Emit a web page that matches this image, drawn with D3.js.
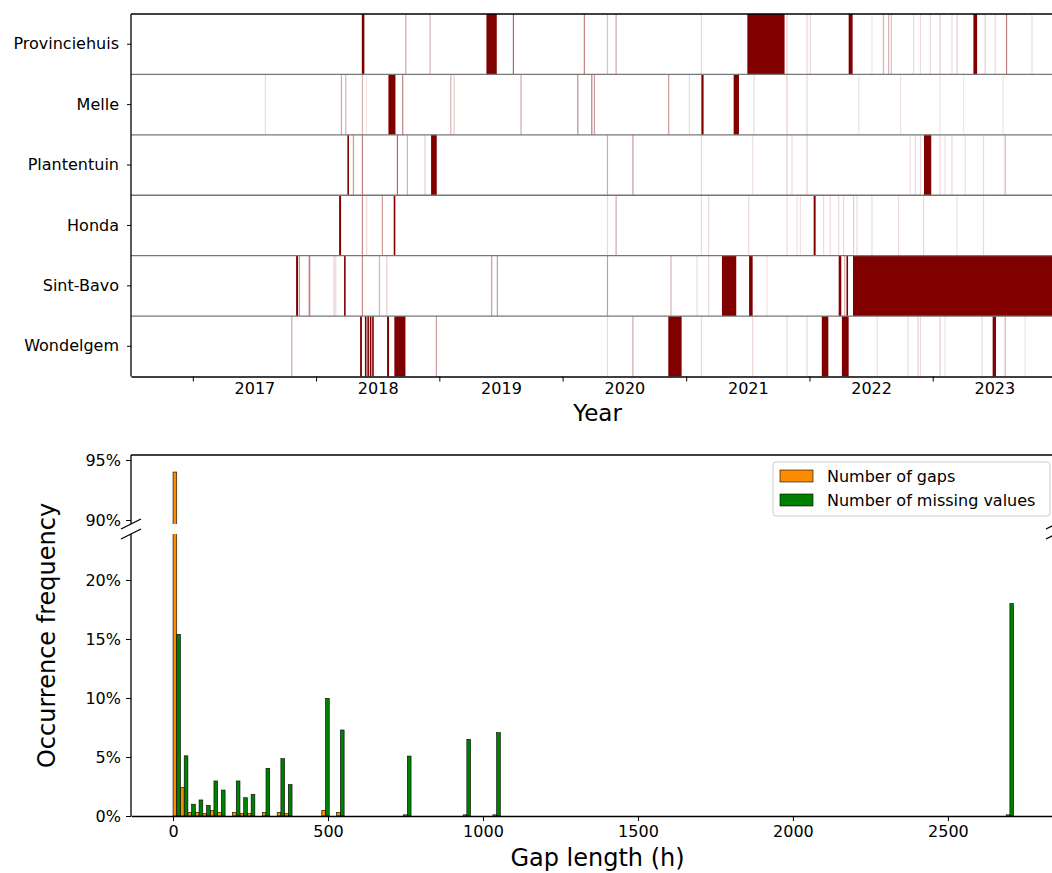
<!DOCTYPE html>
<html>
<head>
<meta charset="utf-8">
<script src="https://cdn.jsdelivr.net/npm/d3@7"></script>
<style>
  body { margin: 0; background: #fff; }
  svg { display: block; font-family: "DejaVu Sans", sans-serif; }
</style>
</head>
<body>
<div id="chart"></div>
<script>
// ---- data: gap timeline (decimal years) ----
const stations = ['Provinciehuis', 'Melle', 'Plantentuin', 'Honda', 'Sint-Bavo', 'Wondelgem'];
const yearLabels = [2017, 2018, 2019, 2020, 2021, 2022, 2023];

// long gaps: [start, end]
const provDark = [[2018.371, 2018.392], [2019.382, 2019.466], [2021.496, 2021.798], [2022.318, 2022.35], [2023.33, 2023.36]];
const melleDark = [[2018.587, 2018.644], [2021.123, 2021.141], [2021.385, 2021.428]];
const plantDark = [[2018.254, 2018.265], [2018.933, 2018.979], [2022.929, 2022.988]];
const hondaDark = [[2018.187, 2018.203], [2018.63, 2018.641], [2022.034, 2022.05]];
const bavoDark = [[2017.838, 2017.854], [2018.227, 2018.238], [2021.29, 2021.406], [2021.51, 2021.539],
  [2022.237, 2022.258], [2022.3, 2022.31], [2022.353, 2024.0]];
const wondDark = [[2018.357, 2018.372], [2018.396, 2018.401], [2018.416, 2018.421], [2018.436, 2018.441],
  [2018.455, 2018.46], [2018.576, 2018.592], [2018.635, 2018.725], [2020.855, 2020.963],
  [2022.1, 2022.153], [2022.263, 2022.318], [2023.486, 2023.513]];

// short gaps: [date, shade]
const provLight = [[2018.728, .35], [2018.925, .3], [2019.601, .6], [2020.176, .5], [2020.363, .25], [2020.433, .35],
  [2021.123, .15], [2021.818, .2], [2021.98, .15], [2022.007, .15], [2022.507, .12], [2022.6, .3], [2022.642, .3],
  [2022.664, .25], [2022.845, .15], [2022.9, .15], [2022.98, .15], [2023.06, .2], [2023.156, .15], [2023.197, .2],
  [2023.426, .2], [2023.507, .15], [2023.599, .5], [2023.805, .15]];
const melleLight = [[2017.589, .15], [2018.206, .35], [2018.241, .3], [2018.376, .3], [2018.41, .1], [2018.703, .5],
  [2019.093, .3], [2019.12, .2], [2019.663, .35], [2020.123, .45], [2020.236, .5], [2020.257, .4], [2020.858, .4],
  [2021.026, .15], [2021.55, .15], [2021.818, .2], [2021.98, .15], [2022.4, .12], [2022.74, .12], [2023.06, .12],
  [2023.25, .1], [2023.57, .12]];
const plantLight = [[2018.303, .4], [2018.376, .5], [2018.66, .6], [2018.741, .3], [2018.884, .2], [2020.363, .35],
  [2020.569, .4], [2021.123, .15], [2021.539, .12], [2021.818, .2], [2021.858, .15], [2021.98, .2], [2022.818, .12],
  [2022.859, .15], [2022.9, .15], [2023.06, .15], [2023.1, .12], [2023.156, .15], [2023.264, .12], [2023.412, .15],
  [2023.588, .3]];
const hondaLight = [[2018.376, .45], [2018.41, .15], [2018.538, .4], [2020.363, .15], [2020.433, .35], [2021.123, .15],
  [2021.182, .15], [2021.507, .15], [2021.818, .15], [2021.899, .12], [2021.926, .12], [2022.115, .15], [2022.169, .15],
  [2022.237, .15], [2022.277, .15], [2022.358, .2], [2022.386, .15], [2022.507, .15], [2022.723, .15], [2022.926, .15],
  [2023.197, .12], [2023.412, .15]];
const bavoLight = [[2017.865, .4], [2017.944, .45], [2017.95, .3], [2018.146, .2], [2018.16, .15], [2018.376, .45],
  [2018.514, .3], [2018.574, .2], [2019.425, .4], [2019.471, .4], [2020.363, .4], [2020.877, .3], [2021.088, .15],
  [2021.182, .15], [2021.655, .12], [2022.285, .3]];
const wondLight = [[2017.803, .35], [2018.976, .4], [2020.363, .15], [2020.569, .35], [2021.123, .15], [2021.539, .15],
  [2021.818, .15], [2021.98, .15], [2022.55, .12], [2022.8, .15], [2022.88, .2], [2022.9, .15], [2023.06, .2],
  [2023.1, .12], [2023.4, .15], [2023.588, .3], [2023.75, .12]];

const darkGaps = [provDark, melleDark, plantDark, hondaDark, bavoDark, wondDark];
const lightGaps = [provLight, melleLight, plantLight, hondaLight, bavoLight, wondLight];

// ---- data: gap length histogram (24 h bins, % of total) ----
const binStart = [0, 24, 48, 72, 96, 120, 144, 192, 216, 240, 288, 336, 360, 480, 528, 744, 936, 1032, 2688];
const gapShare = [94.0, 2.43, 0.3, 0.3, 0.2, 0.45, 0.3, 0.3, 0.2, 0.2, 0.3, 0.3, 0.2, 0.48, 0.3, 0.1, 0.1, 0.1, 0.1];
const missingShare = [15.4, 5.1, 1.0, 1.36, 0.9, 2.97, 2.2, 2.97, 1.55, 1.84, 4.04, 4.86, 2.66, 9.97, 7.29, 5.08, 6.5, 7.06, 18.0];
const xTicksH = [0, 500, 1000, 1500, 2000, 2500];
const yTicksUpper = [90, 95];
const yTicksLower = [0, 5, 10, 15, 20];
const legendLabels = ['Number of gaps', 'Number of missing values'];

const DARK = '#800000';
const ORANGE = '#ff8c00';
const GREEN = '#008000';

function toDate(y) {
  const Y = Math.floor(y);
  const a = new Date(Y, 0, 1), b = new Date(Y + 1, 0, 1);
  return new Date(+a + (y - Y) * (b - a));
}

const W = 1052, H = 873;
const svg = d3.select('#chart').append('svg').attr('width', W).attr('height', H);

// ================= top panel: gap timeline =================
const tp = { left: 131, right: 1056, top: 14, bottom: 376.5 };
const x = d3.scaleTime().domain([toDate(2016.5), toDate(2024)]).range([tp.left, tp.right]);
const y = d3.scaleBand().domain(stations).range([tp.top, tp.bottom]);

svg.append('clipPath').attr('id', 'clipTop')
  .append('rect').attr('x', tp.left).attr('y', tp.top)
  .attr('width', tp.right - tp.left).attr('height', tp.bottom - tp.top);

const gTop = svg.append('g').attr('clip-path', 'url(#clipTop)');

stations.forEach((s, i) => {
  gTop.append('g').selectAll('rect')
    .data(lightGaps[i])
    .join('rect')
    .attr('x', d => x(toDate(d[0])) - 0.6)
    .attr('width', 1.2)
    .attr('y', y(s))
    .attr('height', y.bandwidth())
    .attr('fill', DARK)
    .attr('fill-opacity', d => d[1]);

  gTop.append('g').selectAll('rect')
    .data(darkGaps[i])
    .join('rect')
    .attr('x', d => x(toDate(d[0])))
    .attr('width', d => Math.max(1.6, x(toDate(d[1])) - x(toDate(d[0]))))
    .attr('y', y(s))
    .attr('height', y.bandwidth())
    .attr('fill', DARK);
});

// row separators
svg.append('g').selectAll('line')
  .data(stations.slice(1))
  .join('line')
  .attr('x1', tp.left).attr('x2', tp.right)
  .attr('y1', d => y(d)).attr('y2', d => y(d))
  .attr('stroke', '#777').attr('stroke-width', 1.3);

// frame
svg.append('line').attr('x1', tp.left).attr('x2', tp.right).attr('y1', tp.top).attr('y2', tp.top)
  .attr('stroke', '#000').attr('stroke-width', 1.3);
svg.append('line').attr('x1', tp.left).attr('x2', tp.left).attr('y1', tp.top).attr('y2', tp.bottom)
  .attr('stroke', '#000').attr('stroke-width', 1.3);

const yAxisTop = svg.append('g')
  .attr('transform', `translate(${tp.left},0)`)
  .call(d3.axisLeft(y).tickSize(4).tickPadding(8));
yAxisTop.select('.domain').remove();

const xTickAxis = svg.append('g')
  .attr('transform', `translate(0,${tp.bottom})`)
  .call(d3.axisBottom(x).tickValues(yearLabels.map(v => toDate(v)).concat([toDate(2024)]))
    .tickSize(5).tickSizeOuter(0).tickFormat(''));
xTickAxis.select('.domain').attr('stroke-width', 1.3);

const xLabelAxis = svg.append('g')
  .attr('transform', `translate(0,${tp.bottom})`)
  .call(d3.axisBottom(x).tickValues(yearLabels.map(v => toDate(v + 0.5))).tickSize(0).tickPadding(6)
    .tickFormat(d3.timeFormat('%Y')));
xLabelAxis.select('.domain').remove();

svg.append('text')
  .attr('x', (tp.left + tp.right) / 2 + 4).attr('y', 421)
  .attr('text-anchor', 'middle').attr('font-size', 23)
  .text('Year');

// ================= bottom panel: gap length histogram =================
const bp = { left: 131, right: 1056, top: 455, bottom: 816, breakHi: 524, breakLo: 534 };
const xb = d3.scaleLinear().domain([-135.6, 2848.8]).range([bp.left, bp.right]);
const yUp = d3.scaleLinear().domain([89.67, 95.42]).range([bp.breakHi, bp.top]);
const yLo = d3.scaleLinear().domain([0, 23.9]).range([bp.bottom, bp.breakLo]);
const halfBin = 12;

const bins = binStart.map((s, i) => ({ s, gaps: gapShare[i], miss: missingShare[i] }));
const series = [
  { key: 'gaps', color: ORANGE, off: 0 },
  { key: 'miss', color: GREEN, off: halfBin }
];

[
  { id: 'clipUp', ys: yUp, y0: bp.top, y1: bp.breakHi },
  { id: 'clipLo', ys: yLo, y0: bp.breakLo, y1: bp.bottom }
].forEach(sec => {
  svg.append('clipPath').attr('id', sec.id)
    .append('rect').attr('x', bp.left).attr('y', sec.y0)
    .attr('width', bp.right - bp.left).attr('height', sec.y1 - sec.y0);
  const g = svg.append('g').attr('clip-path', `url(#${sec.id})`);
  const base = sec.ys.domain()[0];
  series.forEach(se => {
    g.append('g').selectAll('rect')
      .data(bins.filter(d => d[se.key] > base))
      .join('rect')
      .attr('x', d => xb(d.s + se.off))
      .attr('width', d => xb(d.s + se.off + halfBin) - xb(d.s + se.off))
      .attr('y', d => sec.ys(d[se.key]))
      .attr('height', d => sec.ys(base) - sec.ys(d[se.key]) + (sec.id === 'clipUp' ? 2 : 0))
      .attr('fill', se.color)
      .attr('stroke', '#000')
      .attr('stroke-width', 0.6);
  });
});

// spines
svg.append('line').attr('x1', bp.left).attr('x2', bp.right).attr('y1', bp.top).attr('y2', bp.top)
  .attr('stroke', '#000').attr('stroke-width', 1.3);
svg.append('line').attr('x1', bp.left).attr('x2', bp.left).attr('y1', bp.top).attr('y2', bp.breakHi)
  .attr('stroke', '#000').attr('stroke-width', 1.3);
svg.append('line').attr('x1', bp.left).attr('x2', bp.left).attr('y1', bp.breakLo).attr('y2', bp.bottom)
  .attr('stroke', '#000').attr('stroke-width', 1.3);

// break marks on both sides
[bp.left, bp.right].forEach(cx => {
  [bp.breakHi, bp.breakLo].forEach(cy => {
    svg.append('line')
      .attr('x1', cx - 10).attr('y1', cy + 5)
      .attr('x2', cx + 10).attr('y2', cy - 5)
      .attr('stroke', '#000').attr('stroke-width', 1.3);
  });
});

const xbAxis = svg.append('g')
  .attr('transform', `translate(0,${bp.bottom})`)
  .call(d3.axisBottom(xb).tickValues(xTicksH).tickSize(5).tickSizeOuter(0).tickPadding(5).tickFormat(d3.format('d')));
xbAxis.select('.domain').attr('stroke-width', 1.3);

const yUpAxis = svg.append('g')
  .attr('transform', `translate(${bp.left},0)`)
  .call(d3.axisLeft(yUp).tickValues(yTicksUpper).tickSize(5).tickPadding(5).tickFormat(d => d + '%'));
yUpAxis.select('.domain').remove();

const yLoAxis = svg.append('g')
  .attr('transform', `translate(${bp.left},0)`)
  .call(d3.axisLeft(yLo).tickValues(yTicksLower).tickSize(5).tickPadding(5).tickFormat(d => d + '%'));
yLoAxis.select('.domain').remove();

svg.append('text')
  .attr('x', (bp.left + bp.right) / 2 + 4).attr('y', 866)
  .attr('text-anchor', 'middle').attr('font-size', 24)
  .text('Gap length (h)');

svg.append('text')
  .attr('transform', `translate(55,${(bp.top + bp.bottom) / 2}) rotate(-90)`)
  .attr('text-anchor', 'middle').attr('font-size', 24)
  .text('Occurrence frequency');

// legend
const lg = svg.append('g').attr('transform', 'translate(773,462)');
lg.append('rect').attr('width', 277).attr('height', 54).attr('rx', 3)
  .attr('fill', '#fff').attr('fill-opacity', 0.8).attr('stroke', '#ccc');
legendLabels.forEach((t, i) => {
  lg.append('rect').attr('x', 7).attr('y', 8 + i * 24).attr('width', 33).attr('height', 12)
    .attr('fill', [ORANGE, GREEN][i]).attr('stroke', '#000').attr('stroke-width', 0.6);
  lg.append('text').attr('x', 54).attr('y', 14 + i * 24).attr('dy', '0.35em')
    .attr('font-size', 16).text(t);
});

svg.selectAll('.tick text').attr('font-size', 16).attr('fill', '#000').attr('font-family', '"DejaVu Sans", sans-serif');
svg.selectAll('.tick line').attr('stroke', '#000').attr('stroke-width', 1);
</script>
</body>
</html>
